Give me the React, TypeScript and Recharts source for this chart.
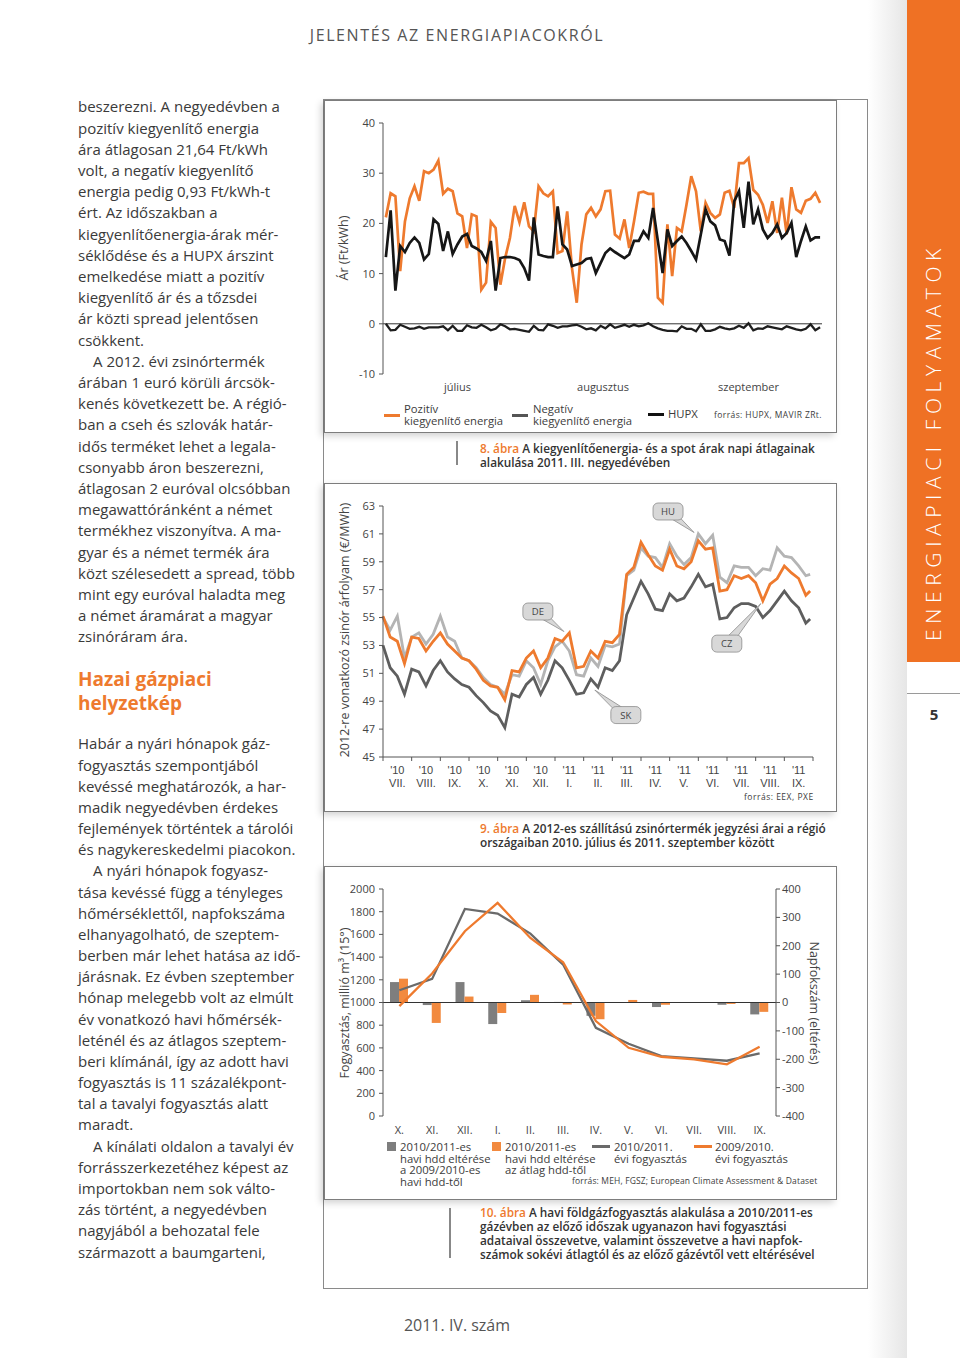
import React from 'react';
import { LineChart, Line, XAxis, YAxis, ReferenceLine, ReferenceDot, ComposedChart, Bar } from 'recharts';

const FONT = "'Open Sans', 'Noto Sans', sans-serif";
const ORANGE = '#ee7a2e';
const TEXT = '#3a3a3a';

// ---------- Chart 8: daily balancing prices, Q3 2011 ----------
const posBalancing = [
  21.2, 26.0, 25.4, 10.5, 20.4, 25.0, 27.4, 24.5, 30.4, 30.0, 30.7, 32.5, 25.9, 26.9, 26.4, 22.0,
  21.4, 15.1, 21.8, 21.4, 6.8, 8.2, 20.3, 19.1, 7.8, 13.1, 17.1, 23.5, 20.2, 24.2, 19.4, 18.4,
  27.4, 26.0, 25.4, 26.4, 14.1, 14.5, 22.4, 11.1, 4.2, 15.8, 21.8, 23.1, 21.4, 22.8,
  26.4, 26.5, 17.8, 17.0, 20.8, 15.1, 20.4, 26.1, 26.3, 25.9, 25.9, 5.2, 4.2, 19.8, 9.5, 19.1,
  18.4, 23.7, 29.4, 26.4, 18.4, 24.1, 22.1, 21.1, 21.8, 26.1, 26.5, 23.1, 32.0, 32.0, 33.0, 26.7,
  25.7, 23.7, 20.1, 24.4, 18.1, 25.1, 17.8, 27.2, 22.8, 22.1, 24.5, 24.9, 26.1, 24.1,
];
const hupx = [
  13.3, 22.6, 6.6, 15.5, 14.3, 16.1, 17.2, 16.1, 12.8, 13.9, 20.8, 19.9, 14.5, 18.4, 13.9, 15.8,
  17.4, 17.9, 15.5, 15.0, 14.3, 12.5, 16.5, 6.6, 13.1, 13.3, 13.3, 13.1, 12.7, 11.1, 8.6, 21.2,
  13.8, 13.5, 13.3, 13.3, 23.4, 15.8, 14.8, 11.5, 11.8, 12.1, 12.9, 13.1, 10.1, 12.1,
  14.1, 15.0, 14.3, 13.7, 13.1, 13.8, 16.5, 16.5, 18.4, 17.1, 23.1, 16.5, 10.1, 18.8, 15.5, 16.5,
  17.4, 16.1, 14.5, 12.8, 17.8, 22.8, 20.4, 19.6, 16.8, 16.5, 13.6, 24.4, 26.4, 19.1, 28.3, 19.8,
  22.8, 18.8, 17.1, 18.1, 19.8, 17.1, 18.1, 20.1, 13.3, 16.5, 19.4, 16.6, 17.2, 17.2,
];
const negBalancing = [
  0, -1.3, -1.2, -0.2, -0.6, -1.0, -0.9, -0.6, -1.0, -0.7, -0.7, -0.7, -0.5, -1.3, -0.4, -1.4,
  -1.4, -0.3, -0.7, -0.8, -0.2, -0.7, -1.3, -1.0, -0.1, -0.5, -1.1, -1.0, -1.2, -1.4, -1.6, -0.4,
  -1.2, -1.3, -0.1, -0.4, -0.8, -0.5, -0.5, -0.3, -0.2, -0.6, -1.1, -0.9, -1.3, -0.4,
  -0.9, -0.1, -0.8, -0.5, -0.2, -0.6, -0.2, -0.5, -0.3, 0.1, -0.5, -0.9, -1.2, -1.4, -1.4, -1.5,
  -0.5, -1.0, -1.0, -1.5, -0.1, -1.4, -1.4, -1.1, -0.6, -0.9, -1.1, -0.9, -0.4, -0.8, 0.1, -1.3,
  -0.9, -1.0, -0.5, -0.7, -0.9, -1.1, -0.5, -0.8, -1.1, -1.3, -1.0, -0.1, -1.3, -0.7,
];
const monthLabels1 = ['július', 'augusztus', 'szeptember'];
const monthTickDays1 = [15, 45.5, 76];
const yTicks1 = [-10, 0, 10, 20, 30, 40];

// ---------- Chart 9: 2012 baseload futures (weekly readings) ----------
const priceDE = [
  55.1, 53.6, 53.3, 51.7, 53.6, 53.5, 52.6, 53.3, 53.9, 53.1, 52.6, 52.1, 51.9, 51.3, 50.5, 50.1,
  50.0, 49.1, 51.2, 51.1, 52.1, 52.6, 51.4, 52.1, 53.5, 53.3, 53.9, 51.4, 51.5, 52.6, 52.1, 53.3,
  53.2, 53.8, 58.1, 58.6, 60.4, 59.5, 58.7, 58.4, 59.9, 58.7, 58.5, 59.0, 60.5, 59.9, 60.0, 56.9,
  57.0, 58.0, 57.8, 58.0, 57.5, 56.2, 57.4, 57.8, 58.7, 58.2, 57.8, 56.6, 56.9,
];
const priceHU = [
  55.0, 54.1, 55.1, 52.1, 53.6, 53.9, 53.1, 53.8, 55.1, 53.6, 53.3, 52.1, 51.9, 51.4, 50.7, 50.2,
  50.0, 49.5, 50.9, 50.8, 51.9, 51.4, 50.2, 51.9, 52.9, 53.3, 52.6, 50.9, 50.8, 52.1, 51.5, 53.0,
  52.9, 53.1, 58.0, 58.4, 60.0, 59.4, 59.3, 58.6, 60.3, 59.4, 58.8, 59.3, 61.0, 60.3, 60.9, 57.9,
  57.5, 58.7, 58.6, 58.6, 58.0, 58.5, 58.4, 60.0, 59.4, 59.3, 58.7, 58.0, 58.1,
];
const priceCZSK = [
  53.0, 51.4, 50.8, 49.5, 51.3, 51.1, 50.1, 51.2, 51.9, 51.1, 50.6, 50.2, 50.0, 49.4, 48.9, 48.3,
  48.0, 47.1, 49.5, 49.3, 50.2, 50.7, 49.5, 50.5, 51.9, 51.4, 50.5, 49.5, 49.6, 50.6, 50.0, 51.4,
  51.2, 51.9, 55.2, 56.4, 57.6, 56.7, 55.6, 55.5, 56.7, 56.2, 56.4, 57.2, 58.1, 57.2, 57.4, 54.9,
  55.0, 55.7, 56.0, 56.0, 55.8, 55.0, 55.5, 56.2, 56.9, 56.2, 55.7, 54.6, 54.9,
];
// position of each reading, in months since 2010 July
const weekPos2 = priceDE.map((_, i) => (i < 60 ? i / 4 : 14.9));
const years2 = ["'10", "'10", "'10", "'10", "'10", "'10", "'11", "'11", "'11", "'11", "'11", "'11", "'11", "'11", "'11"];
const months2 = ['VII.', 'VIII.', 'IX.', 'X.', 'XI.', 'XII.', 'I.', 'II.', 'III.', 'IV.', 'V.', 'VI.', 'VII.', 'VIII.', 'IX.'];
const yTicks2 = [45, 47, 49, 51, 53, 55, 57, 59, 61, 63];
const callouts2 = [
  { label: 'DE', t: 6.31, v: 54.0, dx: -26, dy: -20 },
  { label: 'HU', t: 10.85, v: 61.1, dx: -26, dy: -21 },
  { label: 'CZ', t: 13.18, v: 56.0, dx: -34, dy: 40 },
  { label: 'SK', t: 7.39, v: 49.8, dx: 31, dy: 25 },
];

// ---------- Chart 10: monthly gas consumption ----------
const months3 = ['X.', 'XI.', 'XII.', 'I.', 'II.', 'III.', 'IV.', 'V.', 'VI.', 'VII.', 'VIII.', 'IX.'];
const hddVsPrev = [72, -9, 72, -76, 8, 2, -47, -1, -16, -1, -8, -42];
const hddVsAvg = [84, -72, 21, -37, 27, -7, -59, 9, -8, 1, -5, -33];
const cons1011 = [1108, 1208, 1824, 1783, 1607, 1334, 777, 636, 528, 507, 487, 551];
const cons0910 = [968, 1255, 1628, 1877, 1569, 1355, 836, 601, 522, 499, 455, 610];
const yTicks3L = [0, 200, 400, 600, 800, 1000, 1200, 1400, 1600, 1800, 2000];
const yTicks3R = [-400, -300, -200, -100, 0, 100, 200, 300, 400];

const data1 = posBalancing.map((p, i) => ({ d: i, pos: p, hupx: hupx[i], neg: negBalancing[i] }));
const data2 = weekPos2.map((t, i) => ({ t, de: priceDE[i], hu: priceHU[i], cz: priceCZSK[i] }));
const data3 = months3.map((m, i) => ({ m, prev: hddVsPrev[i], avg: hddVsAvg[i], c1: cons1011[i], c0: cons0910[i] }));

const bodyLines1: [string, boolean][] = [
  ['beszerezni. A negyedévben a', false],
  ['pozitív kiegyenlítő energia', false],
  ['ára átlagosan 21,64 Ft/kWh', false],
  ['volt, a negatív kiegyenlítő', false],
  ['energia pedig 0,93 Ft/kWh-t', false],
  ['ért. Az időszakban a', false],
  ['kiegyenlítőenergia-árak mér-', false],
  ['séklődése és a HUPX árszint', false],
  ['emelkedése miatt a pozitív', false],
  ['kiegyenlítő ár és a tőzsdei', false],
  ['ár közti spread jelentősen', false],
  ['csökkent.', false],
  ['A 2012. évi zsinórtermék', true],
  ['árában 1 euró körüli árcsök-', false],
  ['kenés következett be. A régió-', false],
  ['ban a cseh és szlovák határ-', false],
  ['idős terméket lehet a legala-', false],
  ['csonyabb áron beszerezni,', false],
  ['átlagosan 2 euróval olcsóbban', false],
  ['megawattóránként a német', false],
  ['termékhez viszonyítva. A ma-', false],
  ['gyar és a német termék ára', false],
  ['közt szélesedett a spread, több', false],
  ['mint egy euróval haladta meg', false],
  ['a német áramárat a magyar', false],
  ['zsinóráram ára.', false],
];
const bodyLines2: [string, boolean][] = [
  ['Habár a nyári hónapok gáz-', false],
  ['fogyasztás szempontjából', false],
  ['kevéssé meghatározók, a har-', false],
  ['madik negyedévben érdekes', false],
  ['fejlemények történtek a tárolói', false],
  ['és nagykereskedelmi piacokon.', false],
  ['A nyári hónapok fogyasz-', true],
  ['tása kevéssé függ a tényleges', false],
  ['hőmérséklettől, napfokszáma', false],
  ['elhanyagolható, de szeptem-', false],
  ['berben már lehet hatása az idő-', false],
  ['járásnak. Ez évben szeptember', false],
  ['hónap melegebb volt az elmúlt', false],
  ['év vonatkozó havi hőmérsék-', false],
  ['leténél és az átlagos szeptem-', false],
  ['beri klímánál, így az adott havi', false],
  ['fogyasztás is 11 százalékpont-', false],
  ['tal a tavalyi fogyasztás alatt', false],
  ['maradt.', false],
  ['A kínálati oldalon a tavalyi év', true],
  ['forrásszerkezetéhez képest az', false],
  ['importokban nem sok válto-', false],
  ['zás történt, a negyedévben', false],
  ['nagyjából a behozatal fele', false],
  ['származott a baumgarteni,', false],
];

const abs = (l: number, t: number, extra: React.CSSProperties = {}): React.CSSProperties => ({
  position: 'absolute', left: l, top: t, ...extra,
});

const RotLabel = ({ x, y, angle, text, size = 12.5 }: any) => (
  <div style={abs(x, y, {
    transform: `translate(-50%, -50%) rotate(${angle}deg)`, whiteSpace: 'nowrap',
    fontSize: size, color: '#444', fontFamily: FONT,
  })}>{text}</div>
);

const MonthTick1 = (p: any) => {
  const i = monthTickDays1.indexOf(p.payload.value);
  return (
    <text x={p.x} y={p.y} dy={9} textAnchor="middle" fontSize={11} fill="#444" fontFamily={FONT}>
      {monthLabels1[i]}
    </text>
  );
};

const PLOT2_W = 430;
const TICK2_FONT = "'Liberation Sans', Arial, sans-serif";
const MonthTick2 = (p: any) => {
  const i = p.payload.value;
  if (i >= 15) return null;
  const cx = p.x + PLOT2_W / 15 / 2;
  return (
    <g>
      <text x={cx} y={p.y + 11} textAnchor="middle" fontSize={11} fill="#444" fontFamily={TICK2_FONT}>{years2[i]}</text>
      <text x={cx} y={p.y + 23.5} textAnchor="middle" fontSize={11} fill="#444" fontFamily={TICK2_FONT}>{months2[i]}</text>
    </g>
  );
};

const MonthTick3 = (p: any) => (
  <text x={p.x} y={p.y} dy={9.5} textAnchor="middle" fontSize={11} fill="#444" fontFamily={FONT}>
    {p.payload.value}
  </text>
);

const Callout = ({ cx, cy, dx, dy, label }: any) => {
  if (cx == null || cy == null) return null;
  const w = 30, h = 17;
  const bx = cx + dx, by = cy + dy;
  const ang = Math.atan2(cy - by, cx - bx);
  const px = -Math.sin(ang) * 4.5, py = Math.cos(ang) * 4.5;
  return (
    <g>
      <polygon points={`${bx + px},${by + py} ${bx - px},${by - py} ${cx},${cy}`} fill="#d8d8d8" stroke="#8c8c8c" strokeWidth={0.8} />
      <rect x={bx - w / 2} y={by - h / 2} width={w} height={h} rx={5} fill="#d8d8d8" stroke="#8c8c8c" strokeWidth={0.8} />
      <text x={bx} y={by + 3.5} textAnchor="middle" fontSize={9.5} fill="#444" fontFamily={FONT}>{label}</text>
    </g>
  );
};

const Box = ({ l, t, w, h }: any) => (
  <div style={abs(l, t, {
    width: w, height: h, boxSizing: 'border-box', border: '1.5px solid #7d7d7d', background: '#fff',
    boxShadow: '-3px 3px 7px rgba(0,0,0,0.18)',
  })} />
);

const LegendLine = ({ l, t, color, w = 16 }: any) => (
  <div style={abs(l, t, { width: w, height: 3, background: color })} />
);

const Small = ({ l, t, text, size = 11.3, lh = 12, extra = {} }: any) => (
  <div style={abs(l, t, { fontSize: size, lineHeight: `${lh}px`, color: '#3c3c3c', fontFamily: FONT, whiteSpace: 'pre', ...extra })}>
    {text}
  </div>
);

const Caption = ({ l, t, num, lines }: any) => (
  <div style={abs(l, t, { fontSize: 11.8, lineHeight: '14px', fontWeight: 600, color: '#333', fontFamily: FONT, whiteSpace: 'nowrap' })}>
    {lines.map((ln: string, i: number) => (
      <div key={i}>
        {i === 0 && <span style={{ color: ORANGE }}>{num} </span>}
        {ln}
      </div>
    ))}
  </div>
);

export default function App() {
  return (
    <div style={{ position: 'absolute', left: 0, top: 0, width: 960, height: 1358, background: '#fff', overflow: 'hidden', fontFamily: FONT }}>
      {/* right page shade */}
      <div style={abs(868, 0, { width: 39, height: 1358, background: 'linear-gradient(to right, #ffffff, #e6e6e6)' })} />
      {/* sidebar */}
      <div style={abs(907, 0, { width: 53, height: 662, background: '#ef7124' })} />
      <div style={abs(933, 442, {
        transform: 'translate(-50%, -50%) rotate(-90deg)', whiteSpace: 'nowrap', color: '#fff',
        fontSize: 21, fontWeight: 300, letterSpacing: 5.6, fontFamily: FONT,
      })}>ENERGIAPIACI FOLYAMATOK</div>
      <div style={abs(907, 693, { width: 53, height: 1, background: '#9a9a9a' })} />
      <div style={abs(934, 714, { transform: 'translate(-50%, -50%)', fontSize: 15, fontWeight: 700, color: '#333' })}>5</div>

      {/* header / footer */}
      <div style={abs(457, 35, { transform: 'translate(-50%, -50%)', whiteSpace: 'nowrap', fontSize: 16, letterSpacing: 1.6, color: '#555' })}>
        JELENTÉS AZ ENERGIAPIACOKRÓL
      </div>
      <div style={abs(457, 1325, { transform: 'translate(-50%, -50%)', whiteSpace: 'nowrap', fontSize: 16, color: '#555' })}>
        2011. IV. szám
      </div>

      {/* left text column */}
      <div style={abs(78, 96.4, { fontSize: 15, lineHeight: '21.2px', color: TEXT })}>
        {bodyLines1.map(([s, ind], i) => (
          <div key={i} style={{ whiteSpace: 'nowrap', paddingLeft: ind ? 15 : 0 }}>{s}</div>
        ))}
      </div>
      <div style={abs(78, 667, { fontSize: 19, lineHeight: '24px', color: ORANGE, fontWeight: 700 })}>
        <div>Hazai gázpiaci</div>
        <div>helyzetkép</div>
      </div>
      <div style={abs(78, 733.4, { fontSize: 15, lineHeight: '21.17px', color: TEXT })}>
        {bodyLines2.map(([s, ind], i) => (
          <div key={i} style={{ whiteSpace: 'nowrap', paddingLeft: ind ? 15 : 0 }}>{s}</div>
        ))}
      </div>

      {/* outer frame */}
      <div style={abs(323, 99, { width: 545, height: 1190, boxSizing: 'border-box', border: '1px solid #8a8a8a' })} />

      {/* ===== Chart 8 ===== */}
      <Box l={324} t={100} w={513} h={333} />
      <div style={abs(324, 100)}>
        <LineChart width={513} height={333} data={data1} margin={{ top: 23, right: 15, left: 0, bottom: 0 }}>
          <XAxis dataKey="d" type="number" domain={[-0.6, 91.4]} ticks={monthTickDays1} interval={0}
            tick={<MonthTick1 />} axisLine={false} tickLine={false} tickSize={6} tickMargin={2} height={59} />
          <YAxis type="number" domain={[-10, 40]} ticks={yTicks1} width={59} tickSize={4} tickMargin={4}
            axisLine={{ stroke: '#555' }} tickLine={{ stroke: '#555' }}
            tick={{ fontSize: 11, fill: '#444', fontFamily: FONT }} />
          <ReferenceLine y={0} stroke="#333" strokeWidth={1} />
          <Line dataKey="neg" stroke="#1e1e1e" strokeWidth={2.3} dot={false} isAnimationActive={false} />
          <Line dataKey="pos" stroke={ORANGE} strokeWidth={2.7} dot={false} isAnimationActive={false} />
          <Line dataKey="hupx" stroke="#161616" strokeWidth={2.7} dot={false} isAnimationActive={false} />
        </LineChart>
      </div>
      <RotLabel x={343} y={248} angle={-90} text="Ár (Ft/kWh)" />
      <LegendLine l={384} t={414} color={ORANGE} />
      <Small l={404} t={403} text={'Pozitív\nkiegyenlítő energia'} />
      <LegendLine l={512} t={414} color="#555" />
      <Small l={533} t={403} text={'Negatív\nkiegyenlítő energia'} />
      <LegendLine l={648} t={413} color="#111" />
      <Small l={668} t={408} text="HUPX" />
      <Small l={714} t={410} text="forrás: HUPX, MAVIR ZRt." size={8.5} lh={10} extra={{ letterSpacing: 0.4 }} />

      <div style={abs(456, 441, { width: 1.5, height: 24, background: '#888' })} />
      <Caption l={480} t={440.5} num="8. ábra" lines={[
        'A kiegyenlítőenergia- és a spot árak napi átlagainak',
        'alakulása 2011. III. negyedévében',
      ]} />

      {/* ===== Chart 9 ===== */}
      <Box l={324} t={483} w={513} h={329} />
      <div style={abs(324, 483)}>
        <LineChart width={513} height={329} data={data2} margin={{ top: 23, right: 24, left: 0, bottom: 0 }}>
          <XAxis dataKey="t" type="number" domain={[0, 15]} ticks={[0, 1, 2, 3, 4, 5, 6, 7, 8, 9, 10, 11, 12, 13, 14, 15]}
            interval={0} tick={<MonthTick2 />} tickSize={4} tickMargin={2}
            axisLine={{ stroke: '#555' }} tickLine={{ stroke: '#555' }} height={55} />
          <YAxis type="number" domain={[45, 63]} ticks={yTicks2} width={59} tickSize={4} tickMargin={4}
            axisLine={{ stroke: '#555' }} tickLine={{ stroke: '#555' }}
            tick={{ fontSize: 11, fill: '#444', fontFamily: FONT }} />
          <Line dataKey="cz" stroke="#5e5e5e" strokeWidth={2.8} dot={false} isAnimationActive={false} />
          <Line dataKey="hu" stroke="#b4b4b4" strokeWidth={2.8} dot={false} isAnimationActive={false} />
          <Line dataKey="de" stroke={ORANGE} strokeWidth={2.8} dot={false} isAnimationActive={false} />
          {callouts2.map((c) => (
            <ReferenceDot key={c.label} x={c.t} y={c.v} r={0} ifOverflow="visible"
              shape={(p: any) => <Callout cx={p.cx} cy={p.cy} dx={c.dx} dy={c.dy} label={c.label} />} />
          ))}
        </LineChart>
      </div>
      <RotLabel x={344} y={630} angle={-90} text="2012-re vonatkozó zsinór árfolyam (€/MWh)" />
      <Small l={744} t={792} text="forrás: EEX, PXE" size={8.5} lh={10} extra={{ letterSpacing: 0.5 }} />

      <Caption l={480} t={821} num="9. ábra" lines={[
        'A 2012-es szállítású zsinórtermék jegyzési árai a régió',
        'országaiban 2010. július és 2011. szeptember között',
      ]} />

      {/* ===== Chart 10 ===== */}
      <Box l={324} t={866} w={513} h={334} />
      <div style={abs(324, 866)}>
        <ComposedChart width={513} height={334} data={data3} barGap={0} margin={{ top: 23, right: 0, left: 0, bottom: 0 }}>
          <XAxis dataKey="m" interval={0} tick={<MonthTick3 />} axisLine={false} tickLine={false}
            tickSize={6} tickMargin={2} height={84} />
          <YAxis yAxisId="l" type="number" domain={[0, 2000]} ticks={yTicks3L} width={59} tickSize={4} tickMargin={4}
            axisLine={{ stroke: '#555' }} tickLine={{ stroke: '#555' }}
            tick={{ fontSize: 11, fill: '#444', fontFamily: FONT }} />
          <YAxis yAxisId="r" orientation="right" type="number" domain={[-400, 400]} ticks={yTicks3R} width={61}
            tickSize={4} tickMargin={2} axisLine={{ stroke: '#555' }} tickLine={{ stroke: '#555' }}
            tick={{ fontSize: 11, fill: '#444', fontFamily: FONT, textAnchor: 'start' }} />
          <Bar yAxisId="r" dataKey="prev" fill="#7e7e7e" barSize={9} isAnimationActive={false} />
          <Bar yAxisId="r" dataKey="avg" fill="#f28a3f" barSize={9} isAnimationActive={false} />
          <ReferenceLine yAxisId="r" y={0} stroke="#333" strokeWidth={1} />
          <Line yAxisId="l" dataKey="c1" stroke="#6a6a6a" strokeWidth={2.3} dot={false} isAnimationActive={false} />
          <Line yAxisId="l" dataKey="c0" stroke={ORANGE} strokeWidth={2.3} dot={false} isAnimationActive={false} />
        </ComposedChart>
      </div>
      <RotLabel x={344} y={1003} angle={-90} text="Fogyasztás, millió m³ (15°)" />
      <RotLabel x={814} y={1003} angle={90} text="Napfokszám (eltérés)" />
      <div style={abs(387, 1142, { width: 9, height: 9, background: '#7e7e7e' })} />
      <Small l={400} t={1141} text={'2010/2011-es\nhavi hdd eltérése\na 2009/2010-es\nhavi hdd-től'} lh={11.5} />
      <div style={abs(492, 1142, { width: 9, height: 9, background: '#f28a3f' })} />
      <Small l={505} t={1141} text={'2010/2011-es\nhavi hdd eltérése\naz átlag hdd-től'} lh={11.5} />
      <LegendLine l={592} t={1145} color="#6a6a6a" w={18} />
      <Small l={614} t={1141} text={'2010/2011.\névi fogyasztás'} lh={11.5} />
      <LegendLine l={694} t={1145} color={ORANGE} w={18} />
      <Small l={715} t={1141} text={'2009/2010.\névi fogyasztás'} lh={11.5} />
      <Small l={572} t={1176} text="forrás: MEH, FGSZ; European Climate Assessment & Dataset" size={8.5} lh={10} extra={{ letterSpacing: 0.15 }} />

      <div style={abs(449, 1208, { width: 1.5, height: 50, background: '#888' })} />
      <Caption l={480} t={1205} num="10. ábra" lines={[
        'A havi földgázfogyasztás alakulása a 2010/2011-es',
        'gázévben az előző időszak ugyanazon havi fogyasztási',
        'adataival összevetve, valamint összevetve a havi napfok-',
        'számok sokévi átlagtól és az előző gázévtől vett eltérésével',
      ]} />
    </div>
  );
}
